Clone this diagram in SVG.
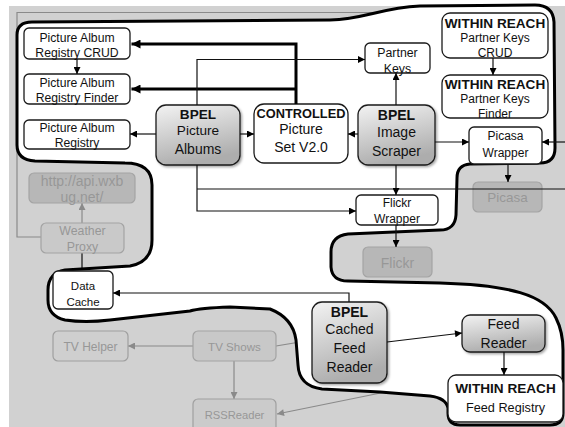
<svg xmlns="http://www.w3.org/2000/svg" width="565" height="427" viewBox="0 0 565 427">
  <defs>
    <style>
      text { font-family: "Liberation Sans", Arial, sans-serif; text-anchor: middle; fill: #111; }
      .b { font-weight: bold; }
      .box { fill: #fff; stroke: #1a1a1a; stroke-width: 1.3; }
      .bpel { fill: url(#bpelFill); stroke: #1a1a1a; stroke-width: 1.3; }
      .ghost { fill: #b7b7b7; stroke: #a4a4a4; stroke-width: 1.2; }
      .ghost-light { fill: #c9c9c9; stroke: #a3a3a3; stroke-width: 1.2; }
      .gt { fill: #979797; }
      .link { fill: none; stroke: #111; stroke-width: 1.2; }
      .thick { fill: none; stroke: #000; stroke-width: 3; }
      .flink { fill: none; stroke: #8a8a8a; stroke-width: 1.2; }
    </style>
    <linearGradient id="bpelFill" x1="0" y1="0" x2="0.3" y2="1">
      <stop offset="0" stop-color="#f3f3f3"/>
      <stop offset="1" stop-color="#adadad"/>
    </linearGradient>
    <filter id="shadow" x="-10%" y="-10%" width="130%" height="130%">
      <feDropShadow dx="1.5" dy="1.5" stdDeviation="1" flood-color="#000" flood-opacity="0.35"/>
    </filter>
    <marker id="arr" viewBox="0 0 10 10" refX="10" refY="5" markerWidth="8" markerHeight="7" orient="auto" markerUnits="userSpaceOnUse">
      <path d="M0,0 L10,5 L0,10 z" fill="#000"/>
    </marker>
    <marker id="arrBig" viewBox="0 0 10 10" refX="10" refY="5" markerWidth="10" markerHeight="9" orient="auto" markerUnits="userSpaceOnUse">
      <path d="M0,0 L10,5 L0,10 z" fill="#000"/>
    </marker>
    <marker id="arrGray" viewBox="0 0 10 10" refX="10" refY="5" markerWidth="8" markerHeight="7" orient="auto" markerUnits="userSpaceOnUse">
      <path d="M0,0 L10,5 L0,10 z" fill="#8a8a8a"/>
    </marker>
  </defs>

  <!-- canvas -->
  <rect x="0" y="0" width="565" height="427" fill="#fff"/>
  <rect x="9" y="6" width="556" height="421" fill="#d1d1d1"/>

  <!-- faded links outside the highlighted area -->
  <g id="connectors-faded">
    <path class="flink" d="M41,237 H17 V12.5 H470"/>
    <path class="flink" d="M82,223 V203" marker-end="url(#arrGray)"/>
    <path class="link" d="M82,253 V271" stroke="#333"/>
    <path class="flink" d="M193,346 H128" marker-end="url(#arrGray)"/>
    <path class="flink" d="M234,361 V399" marker-end="url(#arrGray)"/>
    <path class="flink" d="M276,346 L312,340"/>
    <path class="flink" d="M420,385 L277,414" marker-end="url(#arrGray)"/>
  </g>

  <!-- highlighted region -->
  <path id="region" fill="#fff" stroke="#000" stroke-width="3" stroke-linejoin="round"
        d="M17,35 Q17,22 32,22 L330,20 C365,19 380,8 420,6 L535,5 Q553,5 554,22 L555,148 Q555,163 540,163
           L470,164 Q457,165 457,178 L456,215 Q455,230 440,230 L348,234 Q331,236 331,252 L331,267
           Q332,281 348,281 L440,283 C510,285 545,295 556,318 Q563,332 563,350 L563,413 Q563,425 550,425
           L460,425 Q448,425 448,413 L448,408 Q446,398 430,396 L380,392 L322,389 Q299,386 298,365
           L296,340 Q293,318 270,309 L230,307 Q200,308 190,311 L110,320 Q85,323 65,320 Q48,316 48,300
           L48,290 Q48,273 65,270 L130,266 Q152,262 152,240 L152,185 Q152,163 125,163 L35,161
           Q17,160 17,145 Z"/>

  <!-- nodes -->
  <g id="pa-registry-crud">
    <rect class="box" x="24" y="28" width="106" height="31" rx="5"/>
    <text x="77" y="41.5" font-size="12.2">Picture Album</text>
    <text x="77" y="56.5" font-size="12.2">Registry CRUD</text>
  </g>
  <g id="pa-registry-finder">
    <rect class="box" x="24" y="74" width="106" height="30" rx="5"/>
    <text x="77" y="86.5" font-size="12.2">Picture Album</text>
    <text x="77" y="101.5" font-size="12.2">Registry Finder</text>
  </g>
  <g id="pa-registry">
    <rect class="box" x="24" y="120" width="106" height="29" rx="5"/>
    <text x="77" y="131.5" font-size="12.2">Picture Album</text>
    <text x="77" y="147" font-size="12.2">Registry</text>
  </g>
  <g id="bpel-picture-albums">
    <rect class="bpel" x="156" y="105" width="84" height="60" rx="10" filter="url(#shadow)"/>
    <text class="b" x="198" y="119" font-size="13.6">BPEL</text>
    <text x="198" y="135" font-size="13.6">Picture</text>
    <text x="198" y="154" font-size="14">Albums</text>
  </g>
  <g id="controlled-picture-set">
    <rect class="box" x="254" y="104" width="94" height="59" rx="10"/>
    <text class="b" x="301" y="117.5" font-size="12.8">CONTROLLED</text>
    <text x="301" y="133.5" font-size="14">Picture</text>
    <text x="301" y="152" font-size="14">Set V2.0</text>
  </g>
  <g id="bpel-image-scraper">
    <rect class="bpel" x="358" y="105" width="77" height="60" rx="10" filter="url(#shadow)"/>
    <text class="b" x="396.5" y="119.5" font-size="14">BPEL</text>
    <text x="396.5" y="137" font-size="14">Image</text>
    <text x="396.5" y="155.5" font-size="14">Scraper</text>
  </g>
  <g id="partner-keys">
    <rect class="box" x="365" y="43" width="65" height="30" rx="5"/>
    <text x="397.5" y="57" font-size="12.3">Partner</text>
    <text x="397.5" y="72.5" font-size="12.3">Keys</text>
  </g>
  <g id="partner-keys-crud">
    <rect class="box" x="442" y="13" width="106" height="45" rx="8"/>
    <text class="b" x="495" y="28" font-size="13.6">WITHIN REACH</text>
    <text x="495" y="41.5" font-size="12">Partner Keys</text>
    <text x="495" y="56.5" font-size="12">CRUD</text>
  </g>
  <g id="partner-keys-finder">
    <rect class="box" x="442" y="75" width="106" height="43" rx="8"/>
    <text class="b" x="495" y="88.5" font-size="13.6">WITHIN REACH</text>
    <text x="495" y="102.5" font-size="12">Partner Keys</text>
    <text x="495" y="117.5" font-size="12">Finder</text>
  </g>
  <g id="picasa-wrapper">
    <rect class="box" x="469" y="127" width="73" height="37" rx="5"/>
    <text x="505.5" y="139.5" font-size="12">Picasa</text>
    <text x="505.5" y="157" font-size="12">Wrapper</text>
  </g>
  <g id="flickr-wrapper">
    <rect class="box" x="356" y="195" width="82" height="30" rx="5"/>
    <text x="397" y="206.5" font-size="12">Flickr</text>
    <text x="397" y="223" font-size="12">Wrapper</text>
  </g>
  <g id="picasa">
    <rect class="ghost" x="473" y="182" width="69" height="30" rx="5"/>
    <text class="gt" x="507.5" y="202" font-size="13.5">Picasa</text>
  </g>
  <g id="flickr">
    <rect class="ghost" x="363" y="247" width="69" height="30" rx="5"/>
    <text class="gt" x="397.5" y="267.5" font-size="14">Flickr</text>
  </g>
  <g id="wxbug-api">
    <rect class="ghost" x="29" y="173" width="106" height="30" rx="5"/>
    <text class="gt" x="82" y="185.5" font-size="14">http://api.wxb</text>
    <text class="gt" x="82" y="201.5" font-size="14">ug.net/</text>
  </g>
  <g id="weather-proxy">
    <rect class="ghost-light" x="41" y="223" width="83" height="30" rx="5"/>
    <text class="gt" x="82.5" y="234.5" font-size="12.3">Weather</text>
    <text class="gt" x="82.5" y="251" font-size="12.3">Proxy</text>
  </g>
  <g id="data-cache">
    <rect class="box" x="53" y="271" width="60" height="38" rx="5"/>
    <text x="83" y="290" font-size="11.5">Data</text>
    <text x="83" y="306" font-size="11.5">Cache</text>
  </g>
  <g id="bpel-cached-feed-reader">
    <rect class="bpel" x="312" y="302" width="75" height="81" rx="10" filter="url(#shadow)"/>
    <text class="b" x="349.5" y="317" font-size="14">BPEL</text>
    <text x="349.5" y="333.5" font-size="14">Cached</text>
    <text x="349.5" y="353" font-size="14">Feed</text>
    <text x="349.5" y="372" font-size="14">Reader</text>
  </g>
  <g id="feed-reader">
    <rect class="bpel" x="462" y="315" width="83" height="37" rx="8" filter="url(#shadow)"/>
    <text x="503.5" y="329" font-size="14">Feed</text>
    <text x="503.5" y="348" font-size="14">Reader</text>
  </g>
  <g id="feed-registry">
    <rect class="box" x="448" y="375" width="115" height="47" rx="8"/>
    <text class="b" x="505.5" y="393" font-size="13.6">WITHIN REACH</text>
    <text x="505.5" y="411.5" font-size="12.7">Feed Registry</text>
  </g>
  <g id="tv-helper">
    <rect x="53" y="331" width="75" height="30" rx="5" fill="#cfcfcf" stroke="#9f9f9f" stroke-width="1.2"/>
    <text class="gt" x="90.5" y="350.5" font-size="12">TV Helper</text>
  </g>
  <g id="tv-shows">
    <rect x="193" y="331" width="83" height="30" rx="5" fill="#c8c8c8" stroke="#a3a3a3" stroke-width="1.2"/>
    <text class="gt" x="234.5" y="350.5" font-size="11.6">TV Shows</text>
  </g>
  <g id="rss-reader">
    <rect x="193" y="399" width="83" height="34" rx="5" fill="#cbcbcb" stroke="#a0a0a0" stroke-width="1.2"/>
    <text class="gt" x="234.5" y="419" font-size="11.2">RSSReader</text>
  </g>

  <!-- links -->
  <g id="connectors">
    <path class="thick" d="M296,104 V44 H131.5" marker-end="url(#arrBig)"/>
    <path class="thick" d="M296,89 H131.5" marker-end="url(#arrBig)"/>
    <path class="link" d="M77,59 V74" marker-end="url(#arr)"/>
    <path class="link" d="M156,134 H130" marker-end="url(#arr)"/>
    <path class="link" d="M240,134 H254" marker-end="url(#arr)"/>
    <path class="link" d="M197,105 V59.5 H365" marker-end="url(#arr)"/>
    <path class="link" d="M197,165 V211 H356" marker-end="url(#arr)"/>
    <path class="link" d="M197,189 H565"/>
    <path class="link" d="M358,134 H348" marker-end="url(#arr)"/>
    <path class="link" d="M396,105 V73" marker-end="url(#arr)"/>
    <path class="link" d="M435,142 H469" marker-end="url(#arr)"/>
    <path class="link" d="M565,142 H542" marker-end="url(#arr)"/>
    <path class="link" d="M396,165 V195" marker-end="url(#arr)"/>
    <path class="link" d="M396,225 V247" marker-end="url(#arr)"/>
    <path class="link" d="M508,164 V182" marker-end="url(#arr)"/>
    <path class="link" d="M493,58 V75" marker-end="url(#arr)"/>
    <path class="link" d="M349,302 V293 H113" marker-end="url(#arr)"/>
    <path class="link" d="M387,342 L462,333" marker-end="url(#arr)"/>
    <path class="link" d="M504,352 V375" marker-end="url(#arr)"/>
  </g>
</svg>
